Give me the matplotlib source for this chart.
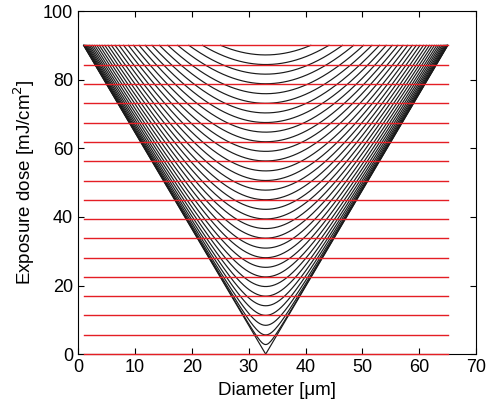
import numpy as np
import matplotlib
matplotlib.use("Agg")
import matplotlib.pyplot as plt

plt.rcParams['font.family'] = ['Liberation Sans', 'DejaVu Sans']

# Data
diameter_left = 1.0      # um, left end at top
diameter_right = 65.0    # um, right end at top
diameter_center = 33.0   # um, V tip
dose_top = 90.0          # mJ/cm2
# minimum dose (at the centre) of each black contour curve
curve_min_doses = [0.0, 2.8, 5.6, 8.4, 11.3, 14.1, 16.9, 19.7, 22.5, 25.3, 28.1,
                   30.9, 33.8, 36.6, 39.4, 42.2, 45.0, 47.8, 50.6, 53.4, 56.3,
                   59.1, 61.9, 64.7, 67.5, 70.3, 73.1, 75.9, 78.8, 81.6, 84.4,
                   87.2]
# red horizontal reference levels
red_doses = [0.0, 5.6, 11.3, 16.9, 22.5, 28.1, 33.8, 39.4, 45.0, 50.6, 56.3,
             61.9, 67.5, 73.1, 78.8, 84.4, 90.0]

fig = plt.figure(figsize=(4.93, 4.08), dpi=100)
ax = fig.add_axes([0.158, 0.132, 0.808, 0.841])

half = diameter_center - diameter_left
slope = dose_top / half
for m in curve_min_doses:
    hw = np.sqrt(max(dose_top**2 - m**2, 0.0)) / slope
    x = np.linspace(diameter_center - hw, diameter_center + hw, 400)
    y = np.sqrt(m**2 + (slope * (x - diameter_center))**2)
    y = np.minimum(y, dose_top)
    ax.plot(x, y, color='#1a1a1a', lw=0.85, zorder=3)

for d in red_doses:
    ax.plot([diameter_left, diameter_right], [d, d], color='#e41e24', lw=1.0,
            zorder=4, clip_on=False)

ax.set_xlim(0, 70)
ax.set_ylim(0, 100)
ax.set_xticks(range(0, 71, 10))
ax.set_yticks(range(0, 101, 20))
ax.tick_params(direction='in', top=True, right=True, labelsize=13, length=4, width=0.8)
for s in ax.spines.values():
    s.set_linewidth(0.8)
ax.set_xlabel('Diameter [μm]', fontsize=13.5, labelpad=4)
ax.set_ylabel('Exposure dose [mJ/cm$^2$]', fontsize=13.5, labelpad=4)

fig.savefig('out.png', dpi=100)
